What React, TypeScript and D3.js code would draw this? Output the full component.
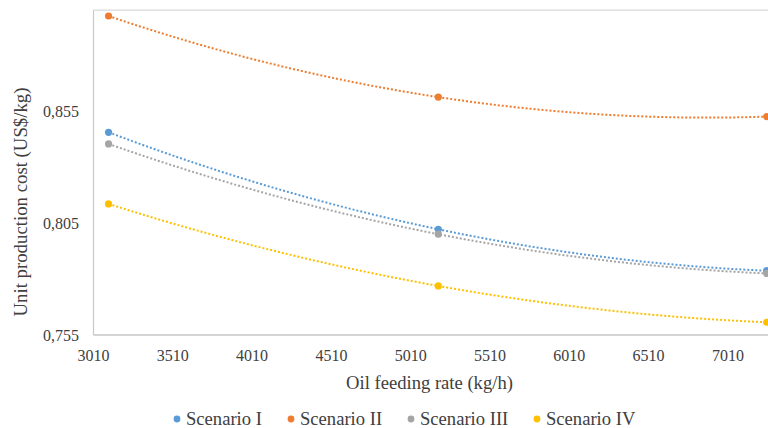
import React from "react";
import * as d3 from "d3";

const feedRates = [3105, 5184, 7255];
const seriesNames = ["Scenario I", "Scenario II", "Scenario III", "Scenario IV"];
const scenarioI = [0.8455, 0.8022, 0.7837];
const scenarioII = [0.8974, 0.8612, 0.8525];
const scenarioIII = [0.8403, 0.8000, 0.7825];
const scenarioIV = [0.8135, 0.7769, 0.7607];
const xTicks = [3010, 3510, 4010, 4510, 5010, 5510, 6010, 6510, 7010];
const yTicks = [0.755, 0.805, 0.855];
const colors = ["#5B9BD5", "#ED7D31", "#A5A5A5", "#FFC000"];

const W = 768;
const H = 428;
const FONT = "'Liberation Serif', 'Times New Roman', serif";

function quad(xs: number[], ys: number[]) {
  return (x: number) => {
    let s = 0;
    for (let i = 0; i < 3; i++) {
      let t = ys[i];
      for (let j = 0; j < 3; j++) {
        if (j !== i) t *= (x - xs[j]) / (xs[i] - xs[j]);
      }
      s += t;
    }
    return s;
  };
}

export default function App() {
  const left = 93.5;
  const top = 10.2;
  const bottom = 335;
  const x = d3.scaleLinear().domain([3010, 7300]).range([left, left + 4290 * 0.1586]);
  const y = d3.scaleLinear().domain([0.755, 0.9]).range([bottom, top]);
  const allSeries = [scenarioI, scenarioII, scenarioIII, scenarioIV];
  const fmt = (v: number) => d3.format(".3f")(v).replace(".", ",");
  const line = d3
    .line<[number, number]>()
    .x((d) => x(d[0]))
    .y((d) => y(d[1]));

  const legendX = [177, 291, 411, 537];

  return (
    <svg
      width={W}
      height={H}
      style={{ position: "absolute", left: 0, top: 0, background: "#fff" }}
      fontFamily={FONT}
    >
      <rect x={0} y={0} width={W} height={H} fill="#fff" />
      {/* plot border */}
      <line x1={left} x2={W + 10} y1={top} y2={top} stroke="#D9D9D9" strokeWidth={1.2} />
      <line x1={left} x2={left} y1={top} y2={bottom} stroke="#C8C8C8" strokeWidth={1.2} />
      <line x1={left} x2={W + 10} y1={bottom} y2={bottom} stroke="#ABABAB" strokeWidth={1.2} />

      {yTicks.map((t) => (
        <text key={t} x={79} y={y(t)} textAnchor="end" dominantBaseline="central" fontSize={16} fill="#404040">
          {fmt(t)}
        </text>
      ))}
      {xTicks.map((t) => (
        <text key={t} x={x(t)} y={361} textAnchor="middle" fontSize={16} fill="#404040">
          {t}
        </text>
      ))}

      {allSeries.map((vals, i) => {
        const f = quad(feedRates, vals);
        const pts: [number, number][] = d3
          .range(0, 81)
          .map((k) => {
            const xv = feedRates[0] + ((feedRates[2] - feedRates[0]) * k) / 80;
            return [xv, f(xv)] as [number, number];
          });
        return (
          <path
            key={"l" + i}
            d={line(pts) || ""}
            fill="none"
            stroke={colors[i]}
            strokeWidth={2}
            strokeDasharray="2,2"
          />
        );
      })}
      {allSeries.map((vals, i) =>
        vals.map((v, j) => (
          <circle key={"c" + i + "-" + j} cx={x(feedRates[j])} cy={y(v)} r={3.6} fill={colors[i]} />
        ))
      )}

      <text
        transform={`translate(20,202) rotate(-90)`}
        textAnchor="middle"
        dominantBaseline="central"
        fontSize={18.8}
        fill="#404040"
      >
        Unit production cost (US$/kg)
      </text>
      <text x={429.5} y={389} textAnchor="middle" fontSize={18.6} fill="#404040">
        Oil feeding rate (kg/h)
      </text>

      {seriesNames.map((n, i) => (
        <g key={n}>
          <circle cx={legendX[i]} cy={419} r={3.4} fill={colors[i]} />
          <text x={legendX[i] + 9} y={418} dominantBaseline="central" fontSize={18.6} fill="#404040">
            {n}
          </text>
        </g>
      ))}
    </svg>
  );
}
